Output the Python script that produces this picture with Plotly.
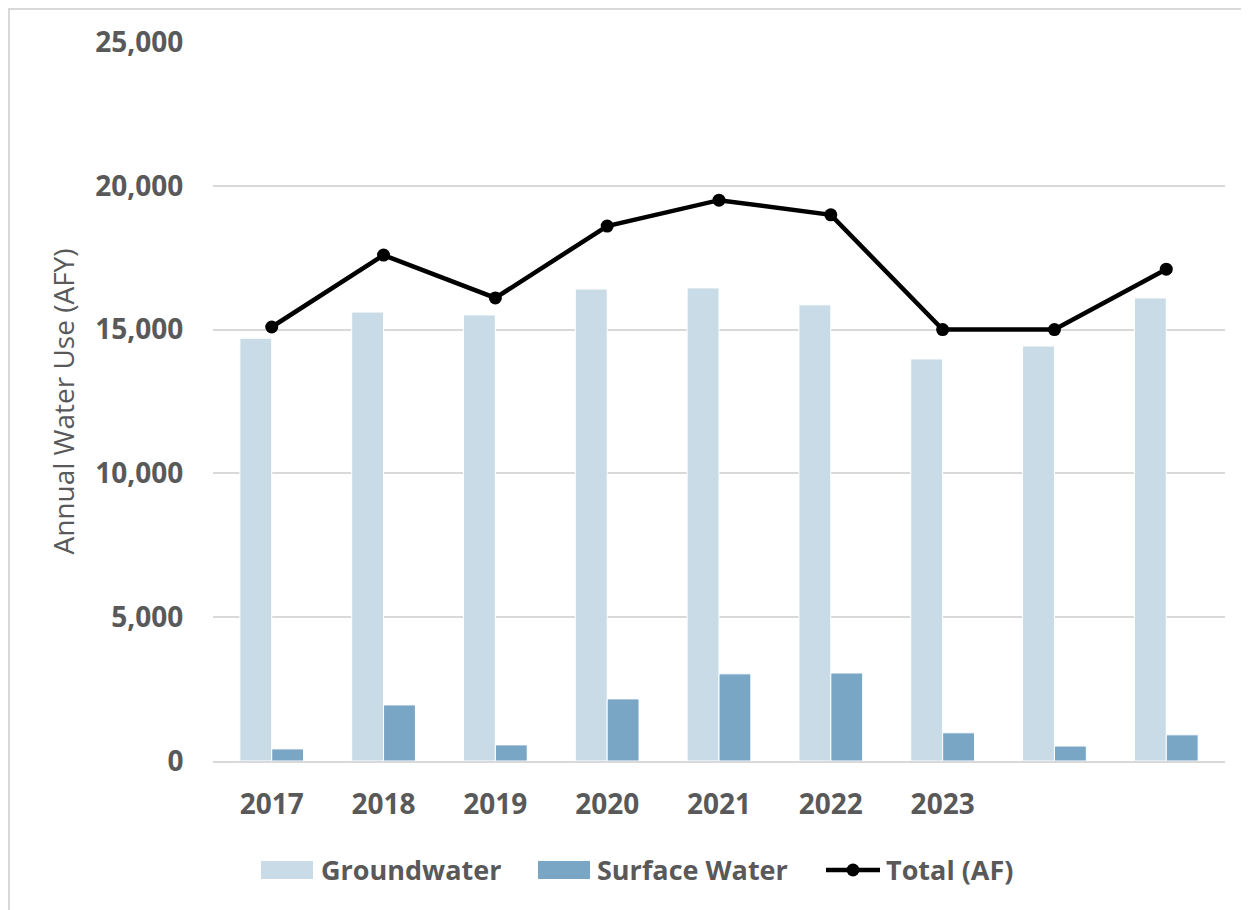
import plotly.graph_objects as go

# ---- data ----
categories = ["2017", "2018", "2019", "2020", "2021", "2022", "2023", "2024", "2025"]
tick_labels = ["2017", "2018", "2019", "2020", "2021", "2022", "2023", "", ""]
groundwater = [14700, 15610, 15510, 16410, 16450, 15860, 13980, 14430, 16100]
surface_water = [420, 1950, 560, 2160, 3030, 3060, 980, 520, 910]
total_af = [15090, 17590, 16100, 18600, 19500, 18990, 15000, 15000, 17100]
y_ticks = [0, 5000, 10000, 15000, 20000, 25000]
series_names = ["Groundwater", "Surface Water", "Total (AF)"]

# ---- styles ----
gw_color = "#c9dbe7"
sw_color = "#7aa6c6"
tot_color = "#000000"
tick_color = "#595959"
grid_color = "#d9d9d9"
font_family = "Open Sans, DejaVu Sans, sans-serif"

# ---- layout geometry (pixels; page has an 8px body margin) ----
OFF = 8
W, H = 1249 - OFF, 910 - OFF
L, R, T, B = 213 - OFF, 24, 42 - OFF, 149
PW, PH = W - L - R, H - T - B

def px(x):
    return (x - OFF - L) / PW

def py(y):
    return (H + OFF - B - y) / PH

fig = go.Figure()
fig.add_trace(go.Bar(
    x=categories, y=groundwater, name=series_names[0],
    marker=dict(color=gw_color, line=dict(color="#ffffff", width=1)),
))
fig.add_trace(go.Bar(
    x=categories, y=surface_water, name=series_names[1],
    marker=dict(color=sw_color, line=dict(color="#ffffff", width=1)),
))
fig.add_trace(go.Scatter(
    x=categories, y=total_af, name=series_names[2], mode="lines+markers",
    line=dict(color=tot_color, width=4.5),
    marker=dict(color=tot_color, size=13),
))

# legend drawn below the plot (key swatches + real text labels)
LEG_Y = 870
shapes = [
    dict(type="rect", xref="paper", yref="paper",
         x0=px(9), x1=px(1270), y0=py(930), y1=py(9),
         line=dict(color="#d9d9d9", width=2), fillcolor="rgba(0,0,0,0)", layer="below"),
    dict(type="rect", xref="paper", yref="paper",
         x0=px(261), x1=px(313), y0=py(LEG_Y + 9), y1=py(LEG_Y - 9),
         fillcolor=gw_color, line=dict(width=0)),
    dict(type="rect", xref="paper", yref="paper",
         x0=px(538), x1=px(590), y0=py(LEG_Y + 9), y1=py(LEG_Y - 9),
         fillcolor=sw_color, line=dict(width=0)),
    dict(type="line", xref="paper", yref="paper",
         x0=px(826), x1=px(880), y0=py(LEG_Y), y1=py(LEG_Y),
         line=dict(color=tot_color, width=4.5)),
    dict(type="circle", xref="paper", yref="paper",
         x0=px(853 - 6.5), x1=px(853 + 6.5), y0=py(LEG_Y + 6.5), y1=py(LEG_Y - 6.5),
         fillcolor=tot_color, line=dict(width=0)),
]
legend_x = [319, 595, 884]
annotations = [
    dict(text=name, xref="paper", yref="paper", x=px(x0), y=py(LEG_Y),
         xanchor="left", yanchor="middle", showarrow=False,
         font=dict(size=27, color=tick_color, family=font_family, weight="bold"))
    for name, x0 in zip(series_names, legend_x)
]

fig.update_layout(
    width=W, height=H,
    margin=dict(l=L, r=R, t=T, b=B, autoexpand=False),
    paper_bgcolor="#ffffff", plot_bgcolor="#ffffff",
    barmode="group", bargap=0.43, bargroupgap=0,
    font=dict(family=font_family, color=tick_color),
    showlegend=False,
    shapes=shapes,
    annotations=annotations,
)

fig.update_xaxes(
    type="category", tickmode="array", tickvals=categories, ticktext=tick_labels,
    tickfont=dict(size=28, color=tick_color, family=font_family, weight="bold"),
    ticks="outside", ticklen=17, tickcolor="rgba(0,0,0,0)",
    showline=True, linecolor=grid_color, linewidth=2,
    showgrid=False, zeroline=False,
)
fig.update_yaxes(
    range=[0, 25000], tickmode="array", tickvals=y_ticks,
    tickformat=",d",
    tickfont=dict(size=28, color=tick_color, family=font_family, weight="bold"),
    ticks="outside", ticklen=23, tickcolor="rgba(0,0,0,0)",
    showgrid=True, gridcolor=grid_color, gridwidth=2,
    zeroline=False, showline=False,
    title=dict(text="Annual Water Use (AFY)", standoff=12,
               font=dict(size=28, color=tick_color, family=font_family)),
)

fig.write_html("out.html")
